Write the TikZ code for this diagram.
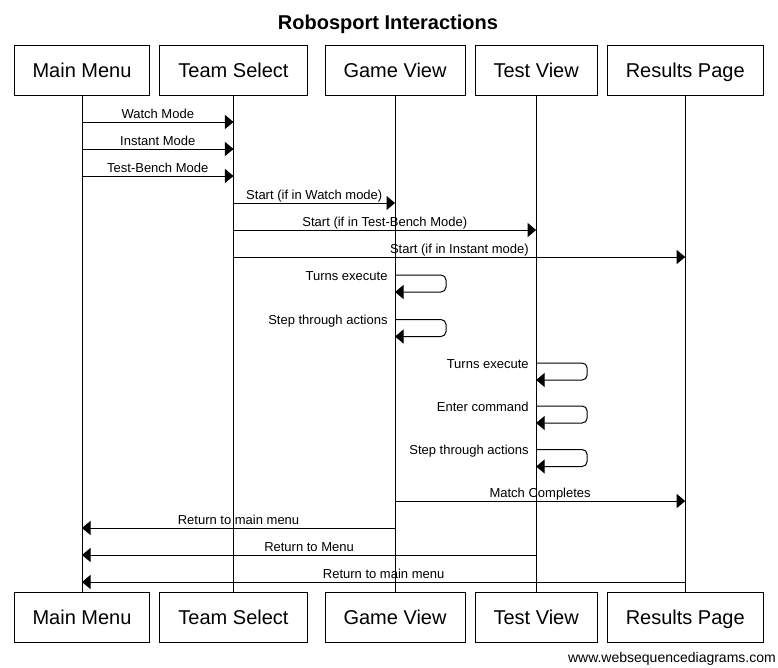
\documentclass[tikz,border=0pt]{standalone}
\usepackage{fontspec}
\setmainfont{Liberation Sans}
\usetikzlibrary{positioning,arrows.meta}
\begin{document}
\begin{tikzpicture}[x=1pt,y=-1pt,
    actor/.style={draw,line width=1pt,inner xsep=18.5pt,minimum height=50pt,
      text height=14.3pt,text depth=0pt,font=\fontsize{20}{24}\selectfont},
    msg/.style={line width=1pt,-{Triangle[length=8.5pt,width=14pt]}},
    self/.style={msg,rounded corners=5pt},
    lbl/.style={anchor=base,yshift=4pt,inner sep=0pt,font=\fontsize{13}{15}\selectfont},
    slbl/.style={anchor=base east,xshift=-7pt,yshift=-5pt,inner sep=0pt,font=\fontsize{13}{15}\selectfont}]
   \useasboundingbox (0,0) rectangle (778,667);
   \node (T) [anchor=base,font=\fontsize{20}{24}\selectfont\bfseries] at (388,29) {Robosport Interactions};

   \node (MM) [actor] at (82,70) {Main Menu};
   \node (TS) [actor,right=9pt of MM] {Team Select};
   \node (GV) [actor,right=17pt of TS] {Game View};
   \node (TV) [actor,right=9pt of GV] {Test View};
   \node (RP) [actor,right=9pt of TV] {Results Page};
   \node (MMb) [actor,below=496pt of MM] {Main Menu};
   \node (TSb) [actor,below=496pt of TS] {Team Select};
   \node (GVb) [actor,below=496pt of GV] {Game View};
   \node (TVb) [actor,below=496pt of TV] {Test View};
   \node (RPb) [actor,below=496pt of RP] {Results Page};

   \path[line width=1pt]
     (MM) edge (MMb)
     (TS) edge (TSb)
     (GV) edge (GVb)
     (TV) edge (TVb)
     (RP) edge (RPb);

   \coordinate (m1) at (0,122);
   \coordinate (m2) at (0,149);
   \coordinate (m3) at (0,176);
   \coordinate (m4) at (0,203);
   \coordinate (m5) at (0,230);
   \coordinate (m6) at (0,257);
   \coordinate (m7) at (0,501);
   \coordinate (m8) at (0,528);
   \coordinate (m9) at (0,555);
   \coordinate (m10) at (0,582);
   \coordinate (s1) at (0,275);
   \coordinate (s2) at (0,319.5);
   \coordinate (s3) at (0,363);
   \coordinate (s4) at (0,406);
   \coordinate (s5) at (0,449.5);

   \path[msg]
     (MM |- m1) edge node[lbl] {Watch Mode} (TS |- m1)
     (MM |- m2) edge node[lbl] {Instant Mode} (TS |- m2)
     (MM |- m3) edge node[lbl] {Test-Bench Mode} (TS |- m3)
     (TS |- m4) edge node[lbl] {Start (if in Watch mode)} (GV |- m4)
     (TS |- m5) edge node[lbl] {Start (if in Test-Bench Mode)} (TV |- m5)
     (TS |- m6) edge node[lbl] {Start (if in Instant mode)} (RP |- m6);

   \draw[self] (GV |- s1) node[slbl] {Turns execute} -| ++(51,17) -- ++(-51,0);
   \draw[self] (GV |- s2) node[slbl] {Step through actions} -| ++(51,17) -- ++(-51,0);
   \draw[self] (TV |- s3) node[slbl] {Turns execute} -| ++(51,17) -- ++(-51,0);
   \draw[self] (TV |- s4) node[slbl] {Enter command} -| ++(51,17) -- ++(-51,0);
   \draw[self] (TV |- s5) node[slbl] {Step through actions} -| ++(51,17) -- ++(-51,0);

   \path[msg]
     (GV |- m7) edge node[lbl] {Match Completes} (RP |- m7)
     (GV |- m8) edge node[lbl] {Return to main menu} (MM |- m8)
     (TV |- m9) edge node[lbl] {Return to Menu} (MM |- m9)
     (RP |- m10) edge node[lbl] {Return to main menu} (MM |- m10);

   \node (W) [anchor=base east,inner sep=0pt,font=\fontsize{14}{16}\selectfont] at (776,662) {www.websequencediagrams.com};
  \end{tikzpicture}
\end{document}
